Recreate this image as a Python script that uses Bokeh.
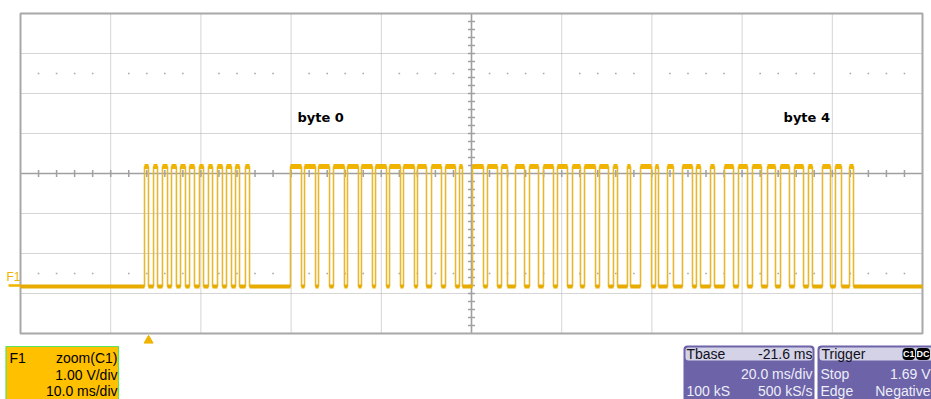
import numpy as np
from bokeh.plotting import figure
from bokeh.models import Range1d
from bokeh.core.properties import value
from bokeh.embed import file_html
from bokeh.resources import INLINE

# ---------------- data ----------------
# time axis: 10 divisions x 10 ms/div, trace F1 = zoom(C1), 1.00 V/div
RISE_MS = [13.75, 14.75, 15.74, 16.74, 17.74, 18.74, 19.84, 20.84, 21.84, 22.84, 23.84, 24.94,
           29.93, 31.49, 33.04, 34.70, 36.25, 37.80, 39.36, 40.91, 42.46, 44.01,
           45.57, 47.12, 48.67, 50.11, 51.77, 53.33, 54.88, 56.43, 57.98, 59.53,
           61.20, 62.53, 64.19, 65.74, 67.29, 68.74, 70.40, 71.73, 73.39, 74.94,
           76.50, 78.05, 79.60, 81.15, 82.82, 84.26, 85.81, 87.36, 88.91, 90.35, 91.91]
FALL_MS = [14.19, 15.19, 16.30, 17.29, 18.29, 19.29, 20.29, 21.29, 22.39, 23.39, 24.28, 25.39,
           31.15, 32.71, 34.26, 35.92, 37.47, 39.02, 40.58, 42.13, 43.68, 45.01,
           46.67, 48.23, 49.00, 51.33, 52.88, 53.99, 55.88, 57.43, 59.09, 60.64,
           62.08, 63.75, 65.19, 66.19, 67.63, 69.96, 70.73, 72.39, 74.50, 75.39,
           76.94, 79.05, 80.60, 82.15, 83.70, 85.25, 86.81, 87.80, 89.80, 91.02, 92.35]
LOW_V = 0.0
HIGH_V = 3.0
T_START, T_END = 0.0, 100.0
MS_PER_DIV = 10.0
V_PER_DIV = 1.0
N_XDIV, N_YDIV = 10, 8
V_BOTTOM = -1.175          # voltage at the bottom edge of the graticule
TRIGGER_MS = 14.2

ANNOT_TEXT = ["byte 0", "byte 4"]
ANNOT_MS = [30.7, 84.6]
ANNOT_V = [4.22, 4.22]

F1_LINES = ["zoom(C1)", "1.00 V/div", "10.0 ms/div"]
TBASE_HEAD = ["Tbase", "-21.6 ms"]
TBASE_ROWS = [("", "20.0 ms/div"), ("100 kS", "500 kS/s")]
TRIG_ROWS = [("Stop", "1.69 V"), ("Edge", "Negative")]

# ---------------- layout (pixels) ----------------
W, H = 931, 399
GX0 = 20            # graticule left edge
PX_PER_MS = 9.02
PX_PER_V = 40.0
ZERO_PY = 286       # pixel row of 0 V


def t_of(px):
    return (px - GX0) / PX_PER_MS


def v_of(py):
    return (ZERO_PY - py) / PX_PER_V


FONT = value("Liberation Sans")
GOLD = "#F0B400"

p = figure(width=W, height=H,
           x_range=Range1d(t_of(0), t_of(W)), y_range=Range1d(v_of(H), v_of(0)),
           x_axis_type=None, y_axis_type=None, toolbar_location=None,
           output_backend="svg", min_border=0, outline_line_color=None,
           background_fill_color="white", border_fill_color="white")

V_TOP = V_BOTTOM + N_YDIV * V_PER_DIV
V_CENTER = V_BOTTOM + N_YDIV / 2 * V_PER_DIV
T_CENTER = T_START + N_XDIV / 2 * MS_PER_DIV

# dotted graticule
xg = [T_START + k * MS_PER_DIV for k in range(1, N_XDIV) if k != N_XDIV // 2]
yg = [V_BOTTOM + k * V_PER_DIV for k in range(1, N_YDIV) if k != N_YDIV // 2]
p.segment(x0=xg, y0=[V_BOTTOM] * len(xg), x1=xg, y1=[V_TOP] * len(xg),
          line_color="#AAAAAA", line_width=1, line_dash="1 1")
p.segment(x0=[T_START] * len(yg), y0=yg, x1=[T_END] * len(yg), y1=yg,
          line_color="#AAAAAA", line_width=1, line_dash="1 1")

# dots at +-2.5 div
dot_t = [T_START + k * MS_PER_DIV / 5 for k in range(1, N_XDIV * 5) if k % 5 != 0]
for dv in (-2.5, 2.5):
    p.scatter(x=dot_t, y=[V_CENTER + dv] * len(dot_t), marker="square", size=1.6,
              fill_color="#A8A8A8", line_color=None)

# center axes with ticks
p.segment(x0=[T_START, T_CENTER], y0=[V_CENTER, V_BOTTOM], x1=[T_END, T_CENTER],
          y1=[V_CENTER, V_TOP], line_color="#A0A0A0", line_width=1.6)
tick_t = [T_START + k * MS_PER_DIV / 5 for k in range(1, N_XDIV * 5) if k != N_XDIV * 5 // 2]
hv = 3.5 / PX_PER_V
p.segment(x0=tick_t, y0=[V_CENTER - hv] * len(tick_t), x1=tick_t, y1=[V_CENTER + hv] * len(tick_t),
          line_color="#A0A0A0", line_width=1.5)
tick_v = [V_BOTTOM + k * V_PER_DIV / 5 for k in range(1, N_YDIV * 5) if k != N_YDIV * 5 // 2]
ht = 3.5 / PX_PER_MS
p.segment(x0=[T_CENTER - ht] * len(tick_v), y0=tick_v, x1=[T_CENTER + ht] * len(tick_v), y1=tick_v,
          line_color="#A0A0A0", line_width=1.5)

# frame
p.quad(left=[T_START], right=[T_END], bottom=[V_BOTTOM], top=[V_TOP],
       fill_color=None, line_color="#A8A8A8", line_width=2)

# ---------------- trace ----------------
xs, ys = [T_START], [LOW_V]
for r, f in zip(RISE_MS, FALL_MS):
    xs += [r, r, f, f]
    ys += [LOW_V, HIGH_V, HIGH_V, LOW_V]
xs.append(T_END)
ys.append(LOW_V)
p.line(xs, ys, line_color="#E6B830", line_width=1.6)

low_x0 = [T_START] + FALL_MS
low_x1 = RISE_MS + [T_END]
p.segment(x0=low_x0, y0=[LOW_V] * len(low_x0), x1=low_x1, y1=[LOW_V] * len(low_x1),
          line_color="#E8AC00", line_width=4)
p.segment(x0=RISE_MS, y0=[HIGH_V] * len(RISE_MS), x1=FALL_MS, y1=[HIGH_V] * len(FALL_MS),
          line_color=GOLD, line_width=5)

# annotations
p.text(x=ANNOT_MS, y=ANNOT_V, text=ANNOT_TEXT, text_font=value("DejaVu Sans"),
       text_font_style="bold", text_font_size="13px", text_baseline="middle",
       text_align="left", text_color="black")

# F1 marker on the left
p.text(x=[t_of(6)], y=[v_of(276)], text=["F1"], text_font=FONT, text_font_size="12px",
       text_baseline="middle", text_color=GOLD)
p.segment(x0=[t_of(8)], y0=[v_of(285)], x1=[T_START], y1=[v_of(285)],
          line_color=GOLD, line_width=2.5)

# trigger marker
p.scatter(x=[TRIGGER_MS], y=[v_of(340)], marker="triangle", size=9,
          fill_color=GOLD, line_color=GOLD)


# ---------------- readout boxes ----------------
def box(x0, x1, y0, y1, fill, line=None, lw=1, radius=0):
    p.quad(left=[t_of(x0)], right=[t_of(x1)], top=[v_of(y0)], bottom=[v_of(y1)],
           fill_color=fill, line_color=line, line_width=lw, border_radius=radius)


def txt(x, y, s, align="left", color="black", size="14px", style="normal"):
    p.text(x=[t_of(x)], y=[v_of(y)], text=[s], text_font=FONT, text_font_size=size,
           text_align=align, text_baseline="middle", text_color=color, text_font_style=style)


# F1 box
box(5.5, 118, 346, 405, "#FFC000", "#5BE35B", 1.2)
F1_Y = [357, 374, 390]
txt(9, F1_Y[0], "F1")
for s, y in zip(F1_LINES, F1_Y):
    txt(117, y, s, align="right")

PURPLE = "#6C63A8"
HEAD = "#D4D2E6"
WHITE = "#EEEEF8"
DARK = "#101020"
RD_Y = [353, 373, 390]
# Tbase box
box(683, 814, 345, 405, PURPLE, radius=4)
box(685, 812, 347, 360, HEAD, radius=3)
txt(686, RD_Y[0], TBASE_HEAD[0], color=DARK)
txt(812, RD_Y[0], TBASE_HEAD[1], align="right", color=DARK)
for (l, r), y in zip(TBASE_ROWS, RD_Y[1:]):
    if l:
        txt(686, y, l, color=WHITE)
    txt(812, y, r, align="right", color=WHITE)

# Trigger box
box(817, 935, 345, 405, PURPLE, radius=4)
box(819, 933, 347, 360, HEAD, radius=3)
txt(821, RD_Y[0], "Trigger", color=DARK)
box(902, 914.5, 347.5, 359.5, "#000000", radius=4)
box(915.5, 929.5, 347.5, 359.5, "#000000", radius=4)
txt(908.3, RD_Y[0] + 0.5, "C1", align="center", color="white", size="9px", style="bold")
txt(922.5, RD_Y[0] + 0.5, "DC", align="center", color="white", size="9px", style="bold")
for (l, r), y in zip(TRIG_ROWS, RD_Y[1:]):
    txt(820, y, l, color=WHITE)
    txt(930, y, r, align="right", color=WHITE)

open("out.html", "w").write(file_html(p, INLINE))
